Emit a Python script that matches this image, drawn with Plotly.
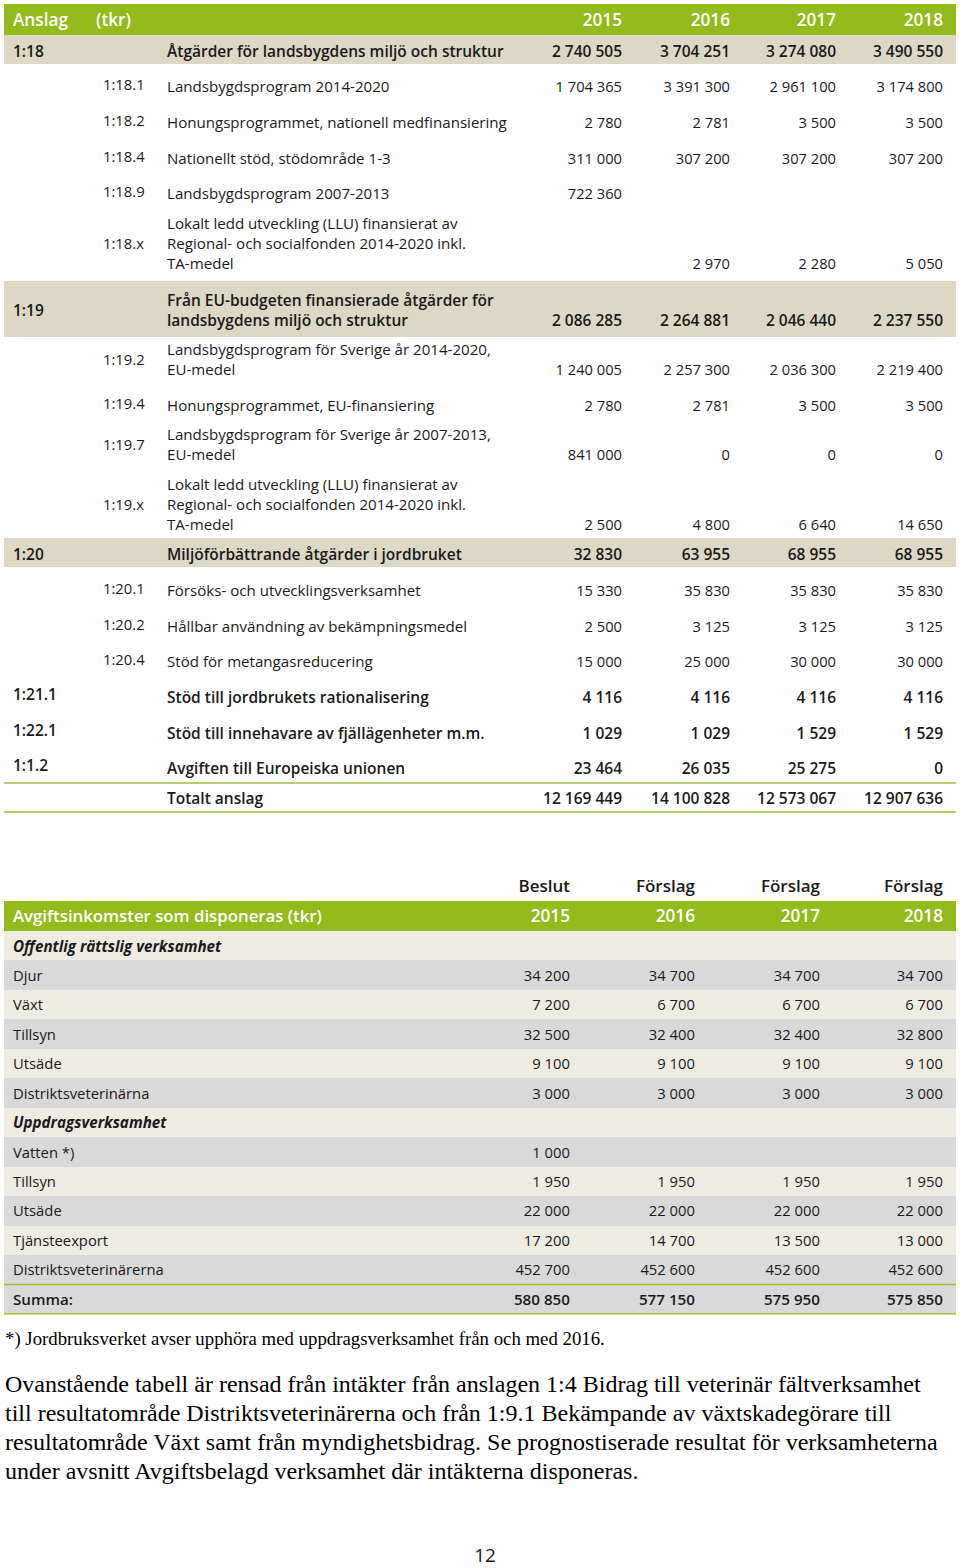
import plotly.graph_objects as go

W, H = 960, 1568

GREEN = "#93bb1c"
BEIGE = "#ddd7c6"
LIGHT = "#eeebe2"
GREY = "#d9d9d9"
INK = "#1a1a1a"
SANS = "Open Sans"
SERIF = "Liberation Serif"

years = ["2015", "2016", "2017", "2018"]
status = ["Beslut", "Förslag", "Förslag", "Förslag"]

# ---- Anslag (tkr) ----
t1_code = ["1:18", "1:18.1", "1:18.2", "1:18.4", "1:18.9", "1:18.x",
           "1:19", "1:19.2", "1:19.4", "1:19.7", "1:19.x",
           "1:20", "1:20.1", "1:20.2", "1:20.4",
           "1:21.1", "1:22.1", "1:1.2", ""]
t1_kind = ["main", "sub", "sub", "sub", "sub", "sub",
           "main", "sub", "sub", "sub", "sub",
           "main", "sub", "sub", "sub",
           "bold", "bold", "bold", "total"]
t1_text = [
    ["Åtgärder för landsbygdens miljö och struktur"],
    ["Landsbygdsprogram 2014-2020"],
    ["Honungsprogrammet, nationell medfinansiering"],
    ["Nationellt stöd, stödområde 1-3"],
    ["Landsbygdsprogram 2007-2013"],
    ["Lokalt ledd utveckling (LLU) finansierat av",
     "Regional- och socialfonden 2014-2020 inkl.", "TA-medel"],
    ["Från EU-budgeten finansierade åtgärder för",
     "landsbygdens miljö och struktur"],
    ["Landsbygdsprogram för Sverige år 2014-2020,", "EU-medel"],
    ["Honungsprogrammet, EU-finansiering"],
    ["Landsbygdsprogram för Sverige år 2007-2013,", "EU-medel"],
    ["Lokalt ledd utveckling (LLU) finansierat av",
     "Regional- och socialfonden 2014-2020 inkl.", "TA-medel"],
    ["Miljöförbättrande åtgärder i jordbruket"],
    ["Försöks- och utvecklingsverksamhet"],
    ["Hållbar användning av bekämpningsmedel"],
    ["Stöd för metangasreducering"],
    ["Stöd till jordbrukets rationalisering"],
    ["Stöd till innehavare av fjällägenheter m.m."],
    ["Avgiften till Europeiska unionen"],
    ["Totalt anslag"],
]
t1_2015 = [2740505, 1704365, 2780, 311000, 722360, None, 2086285, 1240005, 2780,
           841000, 2500, 32830, 15330, 2500, 15000, 4116, 1029, 23464, 12169449]
t1_2016 = [3704251, 3391300, 2781, 307200, None, 2970, 2264881, 2257300, 2781,
           0, 4800, 63955, 35830, 3125, 25000, 4116, 1029, 26035, 14100828]
t1_2017 = [3274080, 2961100, 3500, 307200, None, 2280, 2046440, 2036300, 3500,
           0, 6640, 68955, 35830, 3125, 30000, 4116, 1529, 25275, 12573067]
t1_2018 = [3490550, 3174800, 3500, 307200, None, 5050, 2237550, 2219400, 3500,
           0, 14650, 68955, 35830, 3125, 30000, 4116, 1529, 0, 12907636]

# ---- Avgiftsinkomster som disponeras (tkr) ----
t2_label = ["Offentlig rättslig verksamhet", "Djur", "Växt", "Tillsyn", "Utsäde",
            "Distriktsveterinärna", "Uppdragsverksamhet", "Vatten *)", "Tillsyn",
            "Utsäde", "Tjänsteexport", "Distriktsveterinärerna", "Summa:"]
t2_kind = ["section", "row", "row", "row", "row", "row", "section", "row", "row",
           "row", "row", "row", "sum"]
t2_2015 = [None, 34200, 7200, 32500, 9100, 3000, None, 1000, 1950, 22000, 17200, 452700, 580850]
t2_2016 = [None, 34700, 6700, 32400, 9100, 3000, None, None, 1950, 22000, 14700, 452600, 577150]
t2_2017 = [None, 34700, 6700, 32400, 9100, 3000, None, None, 1950, 22000, 13500, 452600, 575950]
t2_2018 = [None, 34700, 6700, 32800, 9100, 3000, None, None, 1950, 22000, 13000, 452600, 575850]

footnote = "*) Jordbruksverket avser upphöra med uppdragsverksamhet från och med 2016."
paragraph = [
    "Ovanstående tabell är rensad från intäkter från anslagen 1:4 Bidrag till veterinär fältverksamhet",
    "till resultatområde Distriktsveterinärerna och från 1:9.1 Bekämpande av växtskadegörare till",
    "resultatområde Växt samt från myndighetsbidrag. Se prognostiserade resultat för verksamheterna",
    "under avsnitt Avgiftsbelagd verksamhet där intäkterna disponeras.",
]
page_no = "12"

# ---- layout (pixels on a 960 x 1568 canvas) ----
X0, X1 = 4, 956
t1_cols = [622, 730, 836, 943]
t2_cols = [570, 695, 820, 943]
t1_last_y = [51, 86, 122, 158, 193, 263, 320, 369, 405, 454, 524,
             554, 590, 626, 661, 697, 733, 768, 798]
LINE = 20
DY = 2  # text baseline nudge
t1_rules = [783, 812]
T2_TOP, T2_ROW = 931, 29.45


def fmt(v):
    return "" if v is None else f"{v:,}".replace(",", " ")


fig = go.Figure()


def txt(xs, ys, texts, pos, size=14.5, weight=400, color=INK, family=SANS, style="normal"):
    fig.add_trace(go.Scatter(
        x=xs, y=[y + DY for y in ys], text=texts, mode="text", textposition=pos,
        hoverinfo="skip", cliponaxis=False,
        textfont=dict(family=family, size=size, color=color, weight=weight, style=style),
        showlegend=False))


# background bands
band_y, band_h, band_c = [20], [32], [GREEN]
for k, kind in enumerate(t1_kind):
    if kind == "main":
        n = len(t1_text[k])
        band_y.append(t1_last_y[k] - (n - 1) * LINE / 2 - 1.5)
        band_h.append(29 + (n - 1) * 27)
        band_c.append(BEIGE)
band_y.append(T2_TOP - 15)
band_h.append(30)
band_c.append(GREEN)
for i, kind in enumerate(t2_kind):
    band_y.append(T2_TOP + T2_ROW * (i + 0.5))
    band_h.append(T2_ROW)
    band_c.append(GREY if (i % 2 == 1 or kind == "sum") else LIGHT)
fig.add_trace(go.Bar(
    y=band_y, x=[X1 - X0] * len(band_y), base=X0, width=band_h, orientation="h",
    marker=dict(color=band_c, line=dict(width=0)), hoverinfo="skip", showlegend=False))

# rules
for y in t1_rules + [T2_TOP + T2_ROW * 12, T2_TOP + T2_ROW * 13]:
    fig.add_shape(type="line", x0=X0, x1=X1, y0=y, y1=y, xref="x", yref="y",
                  line=dict(color="#9dc034", width=1.5))

# table 1 header
txt([13, 96], [20, 20], ["Anslag", "(tkr)"], "middle right", 17.2, 600, "white")
txt(t1_cols, [20] * 4, years, "middle left", 17.2, 600, "white")

# table 1 body
t1_vals = [t1_2015, t1_2016, t1_2017, t1_2018]
groups = {"bold": ([], [], [], [], [], [], [], []), "reg": ([], [], [], [], [], [], [], [])}
for k, kind in enumerate(t1_kind):
    g = groups["reg" if kind == "sub" else "bold"]
    n = len(t1_text[k])
    last = t1_last_y[k]
    mid = last - (n - 1) * LINE / 2
    if t1_code[k]:
        if kind == "sub":
            g[0].append(103); g[1].append(mid - (2 if n == 1 else 0))
        else:
            g[0].append(13); g[1].append(mid - (3 if kind == "bold" else 0))
        g[2].append(t1_code[k])
    for j, line in enumerate(t1_text[k]):
        g[3].append(last - (n - 1 - j) * LINE); g[4].append(line)
    for c, vals in enumerate(t1_vals):
        g[5].append(t1_cols[c]); g[6].append(last); g[7].append(fmt(vals[k]))
for name, g in groups.items():
    if name == "bold":
        txt(g[0], g[1], g[2], "middle right", 15.5, 600)
        txt([167] * len(g[3]), g[3], g[4], "middle right", 15.5, 600)
        txt(g[5], g[6], g[7], "middle left", 15.5, 600)
    else:
        txt(g[0], g[1], g[2], "middle right", 14.8, 400)
        txt([167] * len(g[3]), g[3], g[4], "middle right", 15.1, 400)
        txt(g[5], g[6], g[7], "middle left", 14.7, 400)

# table 2 header
txt(t2_cols, [886] * 4, status, "middle left", 17, 600)
txt([13], [T2_TOP - 15], ["Avgiftsinkomster som disponeras (tkr)"], "middle right", 16.8, 600, "white")
txt(t2_cols, [T2_TOP - 15] * 4, years, "middle left", 17.2, 600, "white")

# table 2 body
t2_vals = [t2_2015, t2_2016, t2_2017, t2_2018]
for kind, w, st, sz in [("section", 700, "italic", 15.2), ("row", 400, "normal", 14.8),
                        ("sum", 600, "normal", 15.2)]:
    idx = [i for i, k in enumerate(t2_kind) if k == kind]
    ys = [T2_TOP + T2_ROW * (i + 0.5) for i in idx]
    txt([13] * len(idx), ys, [t2_label[i] for i in idx], "middle right", sz, w, style=st)
    if kind != "section":
        xs, yy, tt = [], [], []
        for c, vals in enumerate(t2_vals):
            for i, y in zip(idx, ys):
                xs.append(t2_cols[c]); yy.append(y); tt.append(fmt(vals[i]))
        txt(xs, yy, tt, "middle left", sz, w)

# notes
txt([5], [1338], [footnote], "middle right", 18.8, 400, "black", SERIF)
txt([5] * len(paragraph), [1384 + 29 * i for i in range(len(paragraph))], paragraph,
    "middle right", 24, 400, "black", SERIF)
txt([485], [1555], [page_no], "middle center", 19, 400, INK)

fig.update_layout(
    width=W, height=H, margin=dict(l=0, r=0, t=0, b=0),
    paper_bgcolor="white", plot_bgcolor="white", bargap=0,
    xaxis=dict(range=[0, W], visible=False, fixedrange=True),
    yaxis=dict(range=[H, 0], visible=False, fixedrange=True),
)

# the page body has a default 8px margin; drop it so the figure fills the window
fig.write_html("out.html", config={"displayModeBar": False},
               post_script="document.body.style.margin='0';")
